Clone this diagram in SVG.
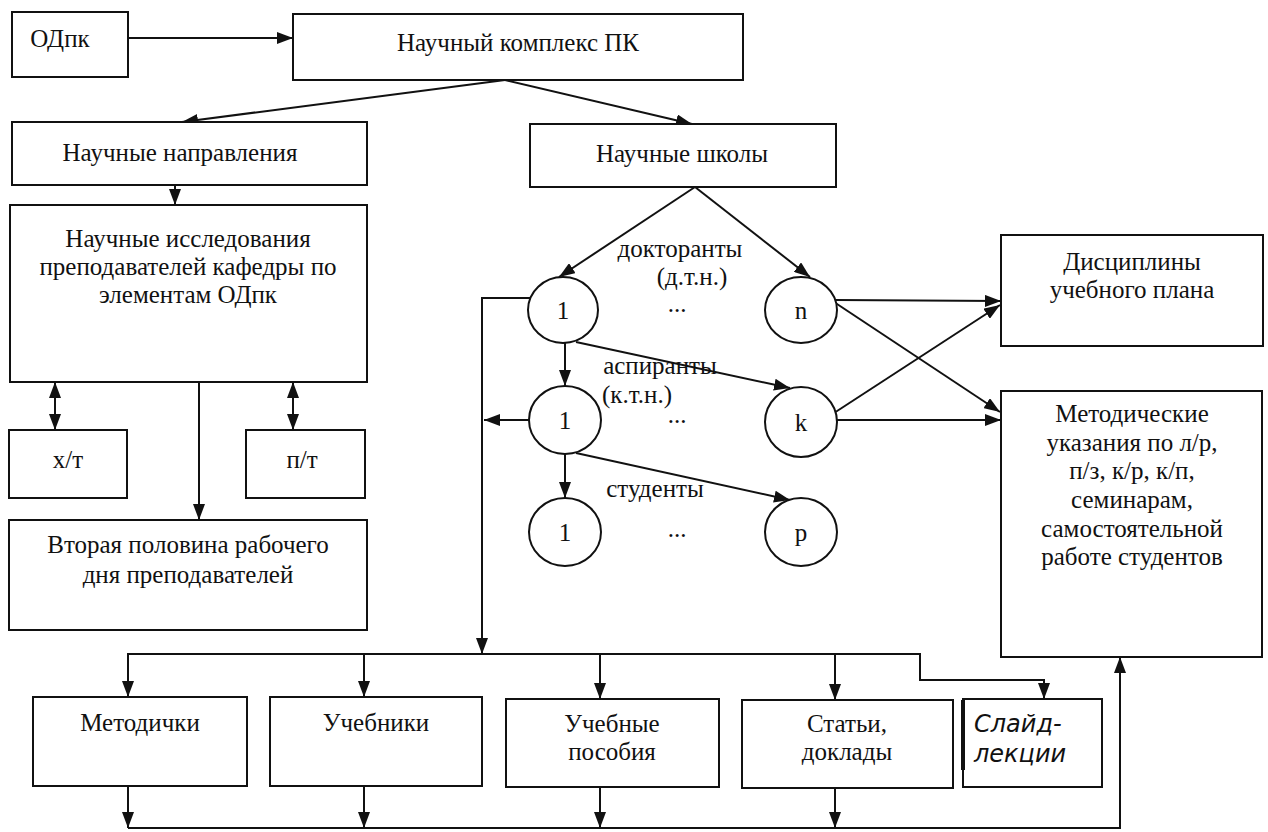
<svg xmlns="http://www.w3.org/2000/svg" width="1268" height="832" viewBox="0 0 1268 832" font-family="Liberation Serif, DejaVu Serif, serif">
<style>
.b{fill:#fff;stroke:#111;stroke-width:2}
.t{font-family:'Liberation Serif','Times New Roman','DejaVu Serif',serif;font-size:25px;fill:#111;text-anchor:middle}
.c{fill:none;stroke:#111;stroke-width:2}
.h{font-family:'DejaVu Sans','Noto Sans',sans-serif;font-style:italic;font-size:24px;fill:#111}
</style>
<defs>
<marker id="a" markerUnits="userSpaceOnUse" markerWidth="16" markerHeight="12" viewBox="0 0 16 12" refX="16" refY="6" orient="auto-start-reverse"><path d="M0,0 L16,6 L0,12 z" fill="#111"/></marker>
</defs>
<rect width="1268" height="832" fill="#fff"/>
<g id="connectors" class="c">
<line x1="128" y1="38" x2="293" y2="38" marker-end="url(#a)"/>
<line x1="505" y1="80" x2="182" y2="122" marker-end="url(#a)"/>
<line x1="505" y1="80" x2="692" y2="124" marker-end="url(#a)"/>
<line x1="175" y1="185" x2="175" y2="205" marker-end="url(#a)"/>
<line x1="55" y1="382" x2="55" y2="430" marker-start="url(#a)" marker-end="url(#a)"/>
<line x1="293" y1="382" x2="293" y2="430" marker-start="url(#a)" marker-end="url(#a)"/>
<line x1="199" y1="382" x2="199" y2="520" marker-end="url(#a)"/>
<line x1="695" y1="187" x2="559" y2="277" marker-end="url(#a)"/>
<line x1="695" y1="187" x2="810" y2="277" marker-end="url(#a)"/>
<polyline points="530,298 482,298 482,654" marker-end="url(#a)"/>
<line x1="565" y1="343" x2="565" y2="386" marker-end="url(#a)"/>
<line x1="576" y1="342" x2="790" y2="388" marker-end="url(#a)"/>
<line x1="529" y1="420" x2="484" y2="420" marker-end="url(#a)"/>
<line x1="565" y1="453" x2="565" y2="498" marker-end="url(#a)"/>
<line x1="576" y1="453" x2="790" y2="500" marker-end="url(#a)"/>
<line x1="836" y1="300" x2="1001" y2="301" marker-end="url(#a)"/>
<line x1="834" y1="302" x2="1000" y2="412" marker-end="url(#a)"/>
<line x1="834" y1="413" x2="1000" y2="305" marker-end="url(#a)"/>
<line x1="837" y1="420" x2="1001" y2="420" marker-end="url(#a)"/>
<polyline points="128,697 128,654 920,654 920,680 1044,680 1044,699" marker-end="url(#a)" marker-start="url(#a)"/>
<line x1="364" y1="654" x2="364" y2="697" marker-end="url(#a)"/>
<line x1="600" y1="654" x2="600" y2="699" marker-end="url(#a)"/>
<line x1="835" y1="654" x2="835" y2="700" marker-end="url(#a)"/>
<line x1="128" y1="786" x2="128" y2="828" marker-end="url(#a)"/>
<line x1="364" y1="786" x2="364" y2="828" marker-end="url(#a)"/>
<line x1="600" y1="787" x2="600" y2="828" marker-end="url(#a)"/>
<line x1="835" y1="788" x2="835" y2="828" marker-end="url(#a)"/>
<polyline points="128,828 1120,828 1120,657" marker-end="url(#a)"/>
</g>
<g id="odpk"><rect class="b" x="12" y="12" width="116" height="65"/><text class="t" x="60" y="47">ОДпк</text></g>
<g id="complex"><rect class="b" x="293" y="14" width="450" height="66"/><text class="t" x="518" y="51">Научный комплекс ПК</text></g>
<g id="directions"><rect class="b" x="12" y="122" width="355" height="63"/><text class="t" x="180" y="161">Научные направления</text></g>
<g id="schools"><rect class="b" x="530" y="124" width="306" height="63"/><text class="t" x="682" y="162">Научные школы</text></g>
<g id="research"><rect class="b" x="10" y="205" width="357" height="177"/><text class="t" x="188" y="247">Научные исследования</text><text class="t" x="188" y="275">преподавателей кафедры по</text><text class="t" x="188" y="303">элементам ОДпк</text></g>
<g id="xt"><rect class="b" x="9" y="430" width="118" height="68"/><text class="t" x="68" y="468">х/т</text></g>
<g id="pt"><rect class="b" x="246" y="430" width="119" height="68"/><text class="t" x="302" y="468">п/т</text></g>
<g id="second"><rect class="b" x="9" y="520" width="358" height="110"/><text class="t" x="188" y="553">Вторая половина рабочего</text><text class="t" x="188" y="583">дня преподавателей</text></g>
<g id="labels">
<text class="t" x="680" y="257">докторанты</text>
<text class="t" x="692" y="285">(д.т.н.)</text>
<text class="t" x="677" y="312">...</text>
<text class="t" x="660" y="374">аспиранты</text>
<text class="t" x="637" y="403">(к.т.н.)</text>
<text class="t" x="677" y="423">...</text>
<text class="t" x="655" y="497">студенты</text>
<text class="t" x="677" y="537">...</text>
</g>
<g id="d1"><ellipse class="b" cx="563" cy="310" rx="35" ry="33"/><text class="t" x="563" y="319">1</text></g>
<g id="dn"><ellipse class="b" cx="801" cy="310" rx="36" ry="33"/><text class="t" x="801" y="319">n</text></g>
<g id="a1"><ellipse class="b" cx="565" cy="420" rx="36" ry="34"/><text class="t" x="565" y="429">1</text></g>
<g id="ak"><ellipse class="b" cx="801" cy="422" rx="36" ry="35"/><text class="t" x="801" y="431">k</text></g>
<g id="s1"><ellipse class="b" cx="565" cy="532" rx="36" ry="34"/><text class="t" x="565" y="541">1</text></g>
<g id="sp"><ellipse class="b" cx="801" cy="532" rx="36" ry="34"/><text class="t" x="801" y="541">p</text></g>
<g id="disc"><rect class="b" x="1001" y="235" width="262" height="111"/><text class="t" x="1132" y="270">Дисциплины</text><text class="t" x="1132" y="298">учебного плана</text></g>
<g id="metod"><rect class="b" x="1001" y="391" width="261" height="266"/>
<text class="t" x="1132" y="422">Методические</text>
<text class="t" x="1132" y="451">указания по л/р,</text>
<text class="t" x="1132" y="479">п/з, к/р, к/п,</text>
<text class="t" x="1132" y="508">семинарам,</text>
<text class="t" x="1132" y="537">самостоятельной</text>
<text class="t" x="1132" y="565">работе студентов</text></g>
<g id="metodichki"><rect class="b" x="33" y="697" width="214" height="89"/><text class="t" x="140" y="731">Методички</text></g>
<g id="uchebniki"><rect class="b" x="270" y="697" width="212" height="89"/><text class="t" x="376" y="731">Учебники</text></g>
<g id="posobiya"><rect class="b" x="506" y="699" width="213" height="88"/><text class="t" x="612" y="732">Учебные</text><text class="t" x="612" y="760">пособия</text></g>
<g id="stati"><rect class="b" x="742" y="700" width="211" height="88"/><text class="t" x="847" y="732">Статьи,</text><text class="t" x="847" y="760">доклады</text></g>
<g id="slides"><rect class="b" x="963" y="699" width="139" height="88"/><line x1="963" y1="700" x2="963" y2="770" stroke="#111" stroke-width="4"/><text class="h" x="974" y="732">Слайд-</text><text class="h" x="974" y="762">лекции</text></g>
</svg>
